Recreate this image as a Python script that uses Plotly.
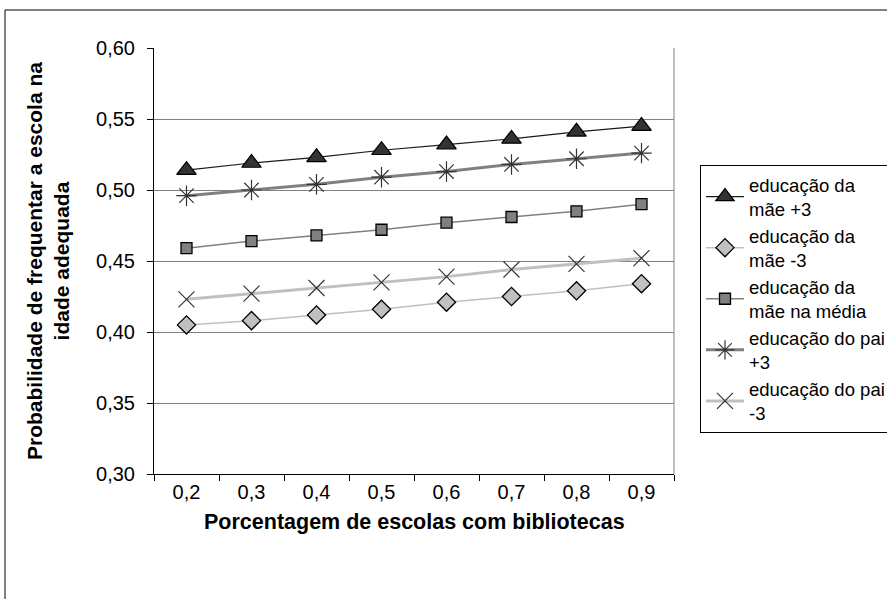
import plotly.graph_objects as go

categories = ["0,2", "0,3", "0,4", "0,5", "0,6", "0,7", "0,8", "0,9"]
mae_mais3 = [0.514, 0.519, 0.523, 0.528, 0.532, 0.536, 0.541, 0.545]
mae_menos3 = [0.405, 0.408, 0.412, 0.416, 0.421, 0.425, 0.429, 0.434]
mae_media = [0.459, 0.464, 0.468, 0.472, 0.477, 0.481, 0.485, 0.490]
pai_mais3 = [0.496, 0.500, 0.504, 0.509, 0.513, 0.518, 0.522, 0.526]
pai_menos3 = [0.423, 0.427, 0.431, 0.435, 0.439, 0.444, 0.448, 0.452]

W, H = 887, 599
L, R, T, B = 154, 674, 48, 474
pw, ph = R - L, B - T

def px_x(x):
    return (x - L) / pw

def px_y(y):
    return 1 - (y - T) / ph

font = "Liberation Sans, Arial, sans-serif"
FS_TICK = 20
FS_LEG = 18.5
FS_TITLE = 21.5

fig = go.Figure()
series = [
    ("educação da<br>mãe +3", mae_mais3, dict(color="#1a1a1a", width=1.2),
     dict(symbol="triangle-up", size=17, color="#333333", line=dict(color="#000000", width=1.2))),
    ("educação da<br>mãe -3", mae_menos3, dict(color="#c0c0c0", width=1.5),
     dict(symbol="diamond", size=14, color="#c0c0c0", line=dict(color="#000000", width=1.3))),
    ("educação da<br>mãe na média", mae_media, dict(color="#808080", width=1.5),
     dict(symbol="square", size=11, color="#808080", line=dict(color="#000000", width=1.3))),
    ("educação do pai<br>+3", pai_mais3, dict(color="#808080", width=3),
     dict(symbol="asterisk-open", size=17, color="#333333", line=dict(color="#333333", width=1.2))),
    ("educação do pai<br>-3", pai_menos3, dict(color="#c0c0c0", width=3),
     dict(symbol="x-thin-open", size=16, color="#333333", line=dict(color="#333333", width=1.2))),
]
for name, vals, ln, mk in series:
    fig.add_trace(go.Scatter(x=categories, y=vals, name=name, mode="lines+markers",
                             line=ln, marker=mk))

fig.update_layout(
    width=W, height=H,
    margin=dict(l=L, r=W - R, t=T, b=H - B, autoexpand=False),
    paper_bgcolor="white", plot_bgcolor="white",
    separators=",.",
    font=dict(family=font, size=FS_TICK, color="#000000"),
    showlegend=True,
    legend=dict(x=px_x(700), y=px_y(165), xanchor="left", yanchor="top",
                bordercolor="#000000", borderwidth=1, bgcolor="white",
                font=dict(family=font, size=FS_LEG, color="#000000"),
                itemwidth=38),
    xaxis=dict(type="category", range=[-0.5, 7.5], tickson="boundaries",
               ticks="outside", ticklen=6, tickcolor="#000000",
               showline=True, linecolor="#000000", linewidth=1, mirror=False,
               showgrid=False, tickfont=dict(size=FS_TICK), fixedrange=True),
    yaxis=dict(range=[0.30, 0.60], dtick=0.05, tick0=0.30, tickformat=".2f",
               ticks="outside", ticklen=6, tickcolor="#000000",
               ticklabelstandoff=8,
               showline=True, linecolor="#000000", linewidth=1,
               showgrid=True, gridcolor="#808080", gridwidth=1,
               zeroline=False, tickfont=dict(size=FS_TICK), fixedrange=True),
    shapes=[
        dict(type="line", xref="paper", yref="paper", x0=1, x1=1, y0=0, y1=1,
             line=dict(color="#808080", width=1)),
        dict(type="rect", xref="paper", yref="paper",
             x0=px_x(5), x1=px_x(900), y0=px_y(620), y1=px_y(10),
             line=dict(color="#000000", width=1), layer="below"),
    ],
    annotations=[
        dict(text="<b>Probabilidade de frequentar a escola na<br>idade adequada</b>",
             xref="paper", yref="paper", x=px_x(48), y=0.5,
             textangle=-90, showarrow=False, xanchor="center", yanchor="middle",
             font=dict(family=font, size=21)),
        dict(text="<b>Porcentagem de escolas com bibliotecas</b>",
             xref="paper", yref="paper", x=px_x(414), y=px_y(522),
             showarrow=False, xanchor="center", yanchor="middle",
             font=dict(family=font, size=FS_TITLE)),
    ],
)

fig.write_html("out.html", config={"displayModeBar": False},
               post_script="document.body.style.margin='0';")
